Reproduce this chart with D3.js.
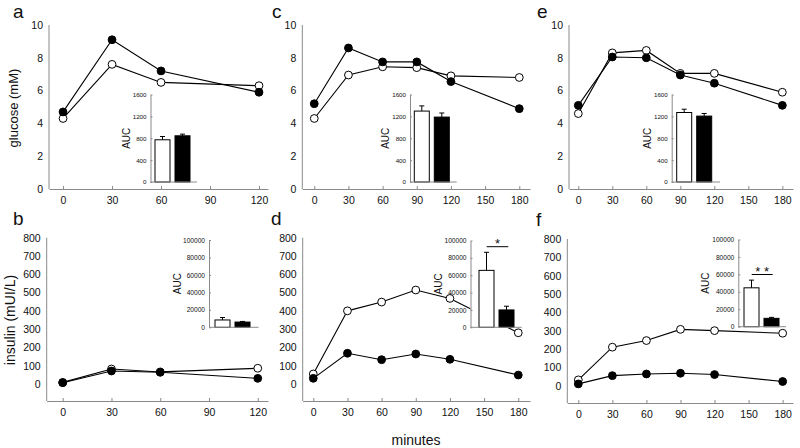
<!DOCTYPE html>
<html><head><meta charset="utf-8">
<script src="https://cdn.jsdelivr.net/npm/d3@7"></script>
<style>
body{margin:0;background:#fff}
svg{display:block}
text{font-family:"Liberation Sans",Arial,sans-serif;fill:#111}
</style>
</head><body>
<svg id="chart" width="800" height="448"></svg>
<script>
// ---------- DATA ----------
const timesShort = [0, 30, 60, 120];
const timesLong = [0, 30, 60, 90, 120, 180];
const xTicksShort = [0, 30, 60, 90, 120];
const xTicksLong = [0, 30, 60, 90, 120, 150, 180];
const glucoseTicks = [0, 2, 4, 6, 8, 10];
const insulinTicks = [0, 100, 200, 300, 400, 500, 600, 700, 800];
const aucGlucoseTicks = [0, 400, 800, 1200, 1600];
const aucInsulinTicks = [0, 20000, 40000, 60000, 80000, 100000];
const groups = ["open", "filled"];

const glucoseA_open = [4.3, 7.6, 6.5, 6.3];
const glucoseA_filled = [4.7, 9.1, 7.2, 5.9];
const insulinB_open = [9, 82, 66, 86];
const insulinB_filled = [7, 71, 64, 31];
const glucoseC_open = [4.3, 6.95, 7.45, 7.4, 6.9, 6.8];
const glucoseC_filled = [5.2, 8.6, 7.75, 7.75, 6.55, 4.9];
const insulinD_open = [55, 400, 448, 514, 468, 280];
const insulinD_filled = [31, 168, 133, 164, 135, 49];
const glucoseE_open = [4.6, 8.3, 8.45, 7.05, 7.05, 5.9];
const glucoseE_filled = [5.1, 8.05, 8.0, 6.95, 6.45, 5.1];
const insulinF_open = [33, 211, 247, 308, 301, 287];
const insulinF_filled = [11, 56, 65, 69, 62, 24];

const aucA = [772, 845], aucA_err = [60, 30];
const aucB = [8400, 6000], aucB_err = [2800, 700];
const aucC = [1297, 1187], aucC_err = [95, 75];
const aucD = [65600, 20000], aucD_err = [20800, 4300];
const aucE = [1271, 1205], aucE_err = [60, 48];
const aucF = [44600, 9600], aucF_err = [8800, 1100];

const sigD = "*";
const sigF = "* *";

// ---------- LAYOUT ----------
const panels = [
  {letter:"a", lx:13, ly:18, times:timesShort, xt:xTicksShort, open:glucoseA_open, filled:glucoseA_filled,
   xd:[-8.6,125.5], xr:[49,268], yd:[0,10], yr:[189,25], yt:glucoseTicks,
   auc:aucA, err:aucA_err, at:aucGlucoseTicks, ad:[0,1600],
   ins:{ax:150.5, b:[155,190], right:197, top:94.5, bottom:182, lab:126.5}},
  {letter:"b", lx:13, ly:225, times:timesShort, xt:xTicksShort, open:insulinB_open, filled:insulinB_filled,
   xd:[-9.85,126.3], xr:[46.7,268], yd:[-93,800], yr:[401,237.7], yt:insulinTicks,
   auc:aucB, err:aucB_err, at:aucInsulinTicks, ad:[0,100000],
   ins:{ax:209, b:[215,250], right:258.5, top:240, bottom:327.3, lab:177}},
  {letter:"c", lx:272, ly:18, times:timesLong, xt:xTicksLong, open:glucoseC_open, filled:glucoseC_filled,
   xd:[-10.5,189.4], xr:[302.3,530], yd:[0,10], yr:[189,25], yt:glucoseTicks,
   auc:aucC, err:aucC_err, at:aucGlucoseTicks, ad:[0,1600],
   ins:{ax:410, b:[414.3,449.3], right:456.7, top:94.5, bottom:182, lab:385.5}},
  {letter:"d", lx:271, ly:225, times:timesLong, xt:xTicksLong, open:insulinD_open, filled:insulinD_filled,
   xd:[-9.3,190.3], xr:[302.7,530], yd:[-93,800], yr:[401,237.7], yt:insulinTicks,
   auc:aucD, err:aucD_err, at:aucInsulinTicks, ad:[0,100000],
   ins:{ax:470.5, b:[479,514], right:521.7, top:240.5, bottom:327.3, lab:438},
   sig:{text:sigD, x0:486.7, x1:508.3, y:246.7}},
  {letter:"e", lx:537, ly:18, times:timesLong, xt:xTicksLong, open:glucoseE_open, filled:glucoseE_filled,
   xd:[-8.2,189.4], xr:[569,793], yd:[0,10], yr:[189,25], yt:glucoseTicks,
   auc:aucE, err:aucE_err, at:aucGlucoseTicks, ad:[0,1600],
   ins:{ax:671.7, b:[676.7,711.7], right:720, top:94.5, bottom:182, lab:647}},
  {letter:"f", lx:536, ly:226, times:timesLong, xt:xTicksLong, open:insulinF_open, filled:insulinF_filled,
   xd:[-9.7,189.1], xr:[567.3,793], yd:[-93,800], yr:[403,239], yt:insulinTicks,
   auc:aucF, err:aucF_err, at:aucInsulinTicks, ad:[0,100000],
   ins:{ax:738.3, b:[744,779], right:786, top:239.5, bottom:326.7, lab:705},
   sig:{text:sigF, x0:751.7, x1:772.7, y:274.5}}
];

const AXIS = "#8a8a8a";
const svg = d3.select("#chart");
const fmt = d3.format("d");

function styleAxis(g){
  g.select(".domain").attr("stroke", AXIS).attr("stroke-width", 1);
  g.selectAll(".tick line").attr("stroke", AXIS);
  g.selectAll(".tick text").attr("fill", "#222").attr("font-family", '"Liberation Sans",Arial,sans-serif');
}

panels.forEach(p => {
  const g = svg.append("g");
  const x = d3.scaleLinear().domain(p.xd).range(p.xr);
  const y = d3.scaleLinear().domain(p.yd).range(p.yr);

  // axes
  const yTop = y(p.yt[p.yt.length-1]);
  const yBot = p.yr[0];
  g.append("g").attr("transform", `translate(0,${yBot})`)
    .call(d3.axisBottom(x).tickValues(p.xt).tickFormat(fmt).tickSizeInner(-3).tickSizeOuter(0).tickPadding(8))
    .call(styleAxis)
    .call(a => a.selectAll(".tick text").attr("font-size", 10.5));
  const ya = g.append("g").attr("transform", `translate(${p.xr[0]},0)`)
    .call(d3.axisLeft(y).tickValues(p.yt).tickFormat(fmt).tickSize(0).tickPadding(6))
    .call(styleAxis)
    .call(a => a.selectAll(".tick text").attr("font-size", 10.5));
  ya.select(".domain").attr("d", `M0,${yTop}V${yBot}`);

  // lines
  const line = d3.line().x((d,i) => x(p.times[i])).y(d => y(d));
  g.append("path").datum(p.open).attr("d", line).attr("fill","none").attr("stroke","#000").attr("stroke-width",1.1);
  g.append("path").datum(p.filled).attr("d", line).attr("fill","none").attr("stroke","#000").attr("stroke-width",1.1);
  g.selectAll("circle.o").data(p.open).join("circle").attr("class","o")
    .attr("cx",(d,i)=>x(p.times[i])).attr("cy",d=>y(d)).attr("r",3.9)
    .attr("fill","#fff").attr("stroke","#000").attr("stroke-width",1);
  g.selectAll("circle.f").data(p.filled).join("circle").attr("class","f")
    .attr("cx",(d,i)=>x(p.times[i])).attr("cy",d=>y(d)).attr("r",3.9)
    .attr("fill","#000").attr("stroke","#000").attr("stroke-width",1);

  // inset
  const ins = p.ins;
  const ay = d3.scaleLinear().domain(p.ad).range([ins.bottom, ins.top]);
  const ab = d3.scaleBand().domain(groups).range(ins.b).paddingInner(0.25).paddingOuter(0);
  const ig = svg.append("g");
  ig.append("rect").attr("x", ins.ax).attr("y", ins.top).attr("width", ins.right-ins.ax).attr("height", ins.bottom-ins.top).attr("fill","#fff");
  ig.selectAll("rect.bar").data(p.auc).join("rect").attr("class","bar")
    .attr("x",(d,i)=>ab(groups[i])).attr("width",ab.bandwidth())
    .attr("y",d=>ay(d)).attr("height",d=>ins.bottom-ay(d))
    .attr("fill",(d,i)=> i===0 ? "#fff" : "#000").attr("stroke","#000").attr("stroke-width",1);
  ig.selectAll("g.err").data(p.auc).join("g").attr("class","err").each(function(d,i){
    const cx = ab(groups[i]) + ab.bandwidth()/2;
    const top = ay(d + p.err[i]);
    const s = d3.select(this);
    s.append("line").attr("x1",cx).attr("x2",cx).attr("y1",ay(d)).attr("y2",top).attr("stroke","#000").attr("stroke-width",1);
    s.append("line").attr("x1",cx-2.5).attr("x2",cx+2.5).attr("y1",top).attr("y2",top).attr("stroke","#000").attr("stroke-width",1);
  });
  ig.append("g").attr("transform",`translate(${ins.ax},0)`)
    .call(d3.axisLeft(ay).tickValues(p.at).tickFormat(fmt).tickSizeInner(-2).tickSizeOuter(0).tickPadding(4))
    .call(styleAxis)
    .call(a => a.selectAll(".tick text").attr("font-size", p.ad[1] > 10000 ? 6.6 : 6.2));
  ig.append("line").attr("x1",ins.ax).attr("x2",ins.right).attr("y1",ins.bottom).attr("y2",ins.bottom).attr("stroke",AXIS);
  ig.append("text").attr("transform",`translate(${ins.lab + 3.5},${(ins.top+ins.bottom)/2}) rotate(-90)`)
    .attr("text-anchor","middle").attr("font-size",10).text("AUC");

  if (p.sig){
    ig.append("line").attr("x1",p.sig.x0).attr("x2",p.sig.x1).attr("y1",p.sig.y).attr("y2",p.sig.y).attr("stroke","#000").attr("stroke-width",1);
    ig.append("text").attr("x",(p.sig.x0+p.sig.x1)/2).attr("y",p.sig.y+1.5).attr("text-anchor","middle").attr("font-size",13).text(p.sig.text);
  }

  // panel letter
  svg.append("text").attr("x",p.lx).attr("y",p.ly).attr("font-size",19).text(p.letter);
});

// axis titles
svg.append("text").attr("transform","translate(17.5,108) rotate(-90)").attr("text-anchor","middle").attr("font-size",13).text("glucose (mM)");
svg.append("text").attr("transform","translate(14.5,320) rotate(-90)").attr("text-anchor","middle").attr("font-size",14).text("insulin (mUI/L)");
svg.append("text").attr("x",416).attr("y",444.5).attr("text-anchor","middle").attr("font-size",14).text("minutes");
</script>
</body></html>
